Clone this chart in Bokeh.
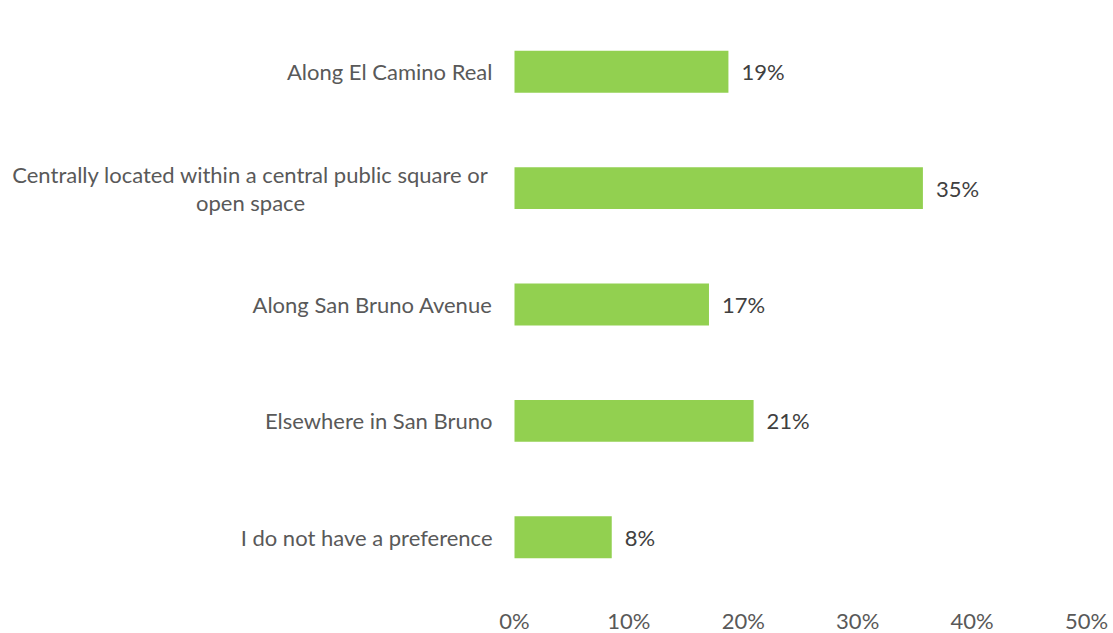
from bokeh.plotting import figure
from bokeh.models import ColumnDataSource, NumeralTickFormatter, FixedTicker
from bokeh.embed import file_html
from bokeh.resources import INLINE
from bokeh.core.properties import value

categories = [
    "Along El Camino Real",
    "Centrally located within a central public square or\nopen space",
    "Along San Bruno Avenue",
    "Elsewhere in San Bruno",
    "I do not have a preference",
]
values = [0.187, 0.357, 0.170, 0.209, 0.085]
value_labels = ["19%", "35%", "17%", "21%", "8%"]
x_ticks = [0, 0.1, 0.2, 0.3, 0.4, 0.5]

# layout: frame spans from the left edge; value 0 sits 514px in, 50% at 1086px
LEFT_PX, PLOT_PX = 514, 572
LINE_PX = 28
x_start = -0.5 * LEFT_PX / PLOT_PX

single = [c for c in categories if "\n" not in c]
m_cat, m_txt, m_off = [], [], []
for c in categories:
    if "\n" in c:
        lines = c.split("\n")
        n = len(lines)
        for j, t in enumerate(lines):
            m_cat.append(c)
            m_txt.append(t)
            m_off.append((j - (n - 1) / 2) * LINE_PX)

src = ColumnDataSource(dict(cat=categories, val=values, lab=value_labels))
src_single = ColumnDataSource(dict(cat=single, x=[0] * len(single)))
src_multi = ColumnDataSource(dict(cat=m_cat, t=m_txt, yo=m_off, x=[0] * len(m_cat)))

p = figure(
    y_range=list(reversed(categories)),
    x_range=(x_start, 0.5),
    frame_width=LEFT_PX + PLOT_PX, frame_height=582,
    min_border_left=0, min_border_right=27,
    min_border_top=13, min_border_bottom=38,
    output_backend="svg", toolbar_location=None,
)

p.hbar(y="cat", right="val", left=0, height=0.36, source=src,
       fill_color="#92D050", line_color=None)

p.text(x="val", y="cat", text="lab", source=src, x_offset=13,
       text_align="left", text_baseline="middle",
       text_font=value("Lato"), text_font_size="22px", text_color="#404040")

p.text(x="x", y="cat", text="cat", source=src_single, x_offset=-22,
       text_align="right", text_baseline="middle",
       text_font=value("Lato"), text_font_size="22px", text_color="#595959")

p.text(x="x", y="cat", text="t", source=src_multi, x_offset=-264, y_offset="yo",
       text_align="center", text_baseline="middle",
       text_font=value("Lato"), text_font_size="22px", text_color="#595959")

p.outline_line_color = None
p.xgrid.grid_line_color = None
p.ygrid.grid_line_color = None

p.xaxis.ticker = FixedTicker(ticks=x_ticks)
p.xaxis.formatter = NumeralTickFormatter(format="0%")
p.xaxis.axis_line_color = None
p.xaxis.major_tick_line_color = None
p.xaxis.minor_tick_line_color = None
p.xaxis.major_label_standoff = 5
p.xaxis.major_label_text_font = "Lato"
p.xaxis.major_label_text_font_size = "22px"
p.xaxis.major_label_text_color = "#595959"

p.yaxis.visible = False

open("out.html", "w").write(file_html(p, INLINE))
